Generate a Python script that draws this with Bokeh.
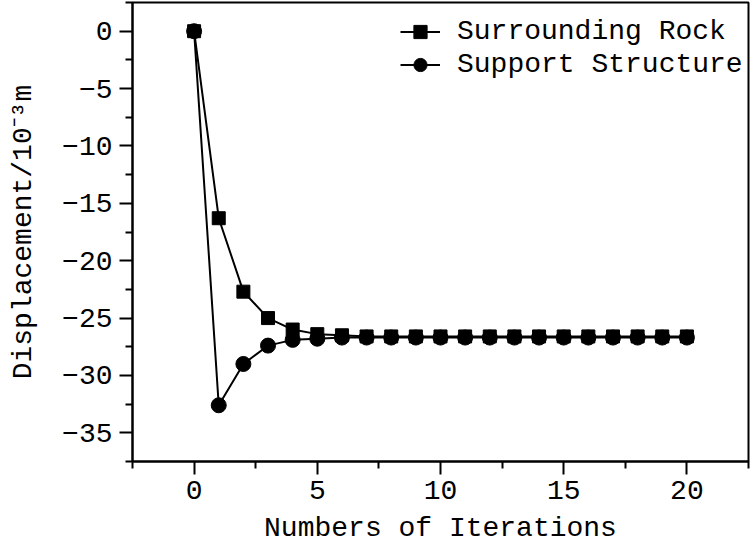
from bokeh.plotting import figure
from bokeh.models import FixedTicker, Legend, LegendItem
from bokeh.embed import file_html
from bokeh.resources import INLINE

iterations = list(range(0, 21))
surrounding_rock = [0.0, -16.3, -22.7, -25.0, -26.0, -26.4, -26.5, -26.6, -26.6, -26.6,
                    -26.6, -26.6, -26.6, -26.6, -26.6, -26.6, -26.6, -26.6, -26.6, -26.6, -26.6]
support_structure = [0.0, -32.6, -29.0, -27.4, -26.9, -26.8, -26.7, -26.7, -26.7, -26.7,
                     -26.7, -26.7, -26.7, -26.7, -26.7, -26.7, -26.7, -26.7, -26.7, -26.7, -26.7]
x_ticks = [0, 5, 10, 15, 20]
y_ticks = [0, -5, -10, -15, -20, -25, -30, -35]
y_tick_labels = ["0", "\u22125", "\u221210", "\u221215", "\u221220", "\u221225", "\u221230", "\u221235"]

FONT = "Liberation Mono"
FS = "28px"

p = figure(width=750, height=546, x_range=(-2.5, 22.5), y_range=(-37.5, 2.5),
           output_backend="svg", toolbar_location=None,
           min_border_left=132, min_border_right=2, min_border_top=2, min_border_bottom=85)
p.background_fill_color = "white"
p.border_fill_color = "white"
p.outline_line_color = "black"
p.outline_line_width = 2
p.xgrid.visible = False
p.ygrid.visible = False

for ax in (p.xaxis[0], p.yaxis[0]):
    ax.axis_line_width = 2
    ax.axis_line_color = "black"
    ax.major_tick_line_width = 2
    ax.minor_tick_line_width = 2
    ax.major_tick_in = 0
    ax.major_tick_out = 13
    ax.minor_tick_in = 0
    ax.minor_tick_out = 7
    ax.major_label_text_font = FONT
    ax.major_label_text_font_size = FS
    ax.major_label_text_color = "black"
    ax.axis_label_text_font = FONT
    ax.axis_label_text_font_size = FS
    ax.axis_label_text_font_style = "normal"
    ax.axis_label_text_color = "black"

p.xaxis[0].ticker = FixedTicker(ticks=x_ticks, minor_ticks=[-2.5, 2.5, 7.5, 12.5, 17.5, 22.5])
p.yaxis[0].ticker = FixedTicker(ticks=y_ticks, minor_ticks=[2.5 - 5 * i for i in range(9)])
p.yaxis[0].major_label_overrides = {t: l for t, l in zip(y_ticks, y_tick_labels)}
p.xaxis[0].major_label_standoff = 6
p.xaxis[0].axis_label_standoff = 11
p.yaxis[0].major_label_standoff = 7
p.yaxis[0].axis_label_standoff = 20
p.xaxis[0].axis_label = "Numbers of Iterations"
p.yaxis[0].axis_label = "Displacement/10\u207b\u00b3m"

l1 = p.line(iterations, surrounding_rock, line_color="black", line_width=2)
s1 = p.scatter(iterations, surrounding_rock, marker="square", size=13,
               fill_color="black", line_color="black")
l2 = p.line(iterations, support_structure, line_color="black", line_width=2)
s2 = p.scatter(iterations, support_structure, marker="circle", size=15,
               fill_color="black", line_color="black")

legend = Legend(items=[LegendItem(label="Surrounding Rock", renderers=[l1, s1]),
                       LegendItem(label="Support Structure", renderers=[l2, s2])],
                location=(268, 380), border_line_color=None, background_fill_alpha=0,
                label_text_font=FONT, label_text_font_size=FS, label_text_color="black",
                glyph_width=40, glyph_height=33, label_height=33, spacing=0,
                label_standoff=17, padding=0, margin=0)
p.add_layout(legend)

open("out.html", "w").write(file_html(p, INLINE))
